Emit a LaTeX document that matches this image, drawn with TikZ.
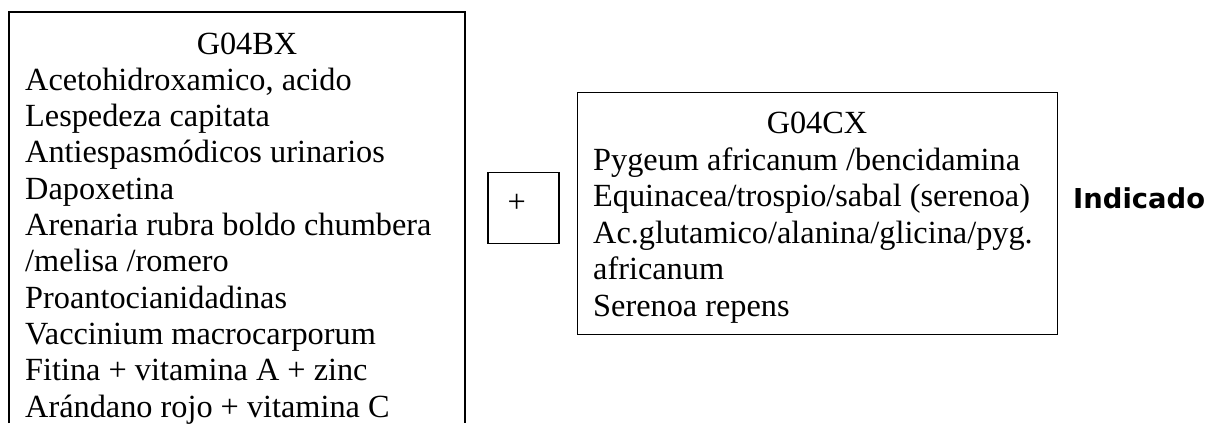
\documentclass[tikz,border=0pt]{standalone}
\usepackage{fontspec}
\setmainfont{Liberation Serif}
\newfontfamily\tagfont{DejaVu Sans}
\begin{document}
\begin{tikzpicture}[x=1pt,y=-1pt,
  body/.style={inner sep=0pt, font=\fontsize{32.3}{36.5}\selectfont},
  entry/.style={body, anchor=base west},
  heading/.style={body, anchor=base},
  frame/.style={draw=black, line width=1.4pt},
  thinframe/.style={draw=black, line width=1.1pt}]
\useasboundingbox (0,0) rectangle (1207,423);

% G04BX group (runs past the lower edge)
\draw[frame] (9,423) |- (465,12) -- (465,423);
\node[heading] (bx) at (247,54) {G04BX};
\foreach \t [count=\i] in {{Acetohidroxamico, acido},Lespedeza capitata,
    Antiespasmódicos urinarios,Dapoxetina,Arenaria rubra boldo chumbera,
    /melisa /romero,Proantocianidadinas,Vaccinium macrocarporum,
    Fitina + vitamina A + zinc,Arándano rojo + vitamina C}
  \node[entry] (bx\i) at (25,{54+36.3*\i}) {\t};

% plus sign between the groups
\node[thinframe, minimum width=71pt, minimum height=71pt, inner sep=0pt] (plusbox) at (523.5,208) {};
\node[heading] (plus) at (516.7,212) {+};

% G04CX group
\node[frame, anchor=north west, minimum width=480pt, minimum height=242pt, inner sep=0pt] (cx) at (577,92) {};
\node[heading] (cxtitle) at (817,133.5) {G04CX};
\foreach \t [count=\i] in {Pygeum africanum /bencidamina,
    Equinacea/trospio/sabal (serenoa),Ac.glutamico/alanina/glicina/pyg.,
    africanum,Serenoa repens}
  \node[entry] (cx\i) at (593,{133.5+36.5*\i}) {\t};

% indication
\node[anchor=base west, inner sep=0pt, font=\tagfont\bfseries\fontsize{27.4}{30}\selectfont] (ind) at (1073,208) {Indicado};
\end{tikzpicture}
\end{document}
